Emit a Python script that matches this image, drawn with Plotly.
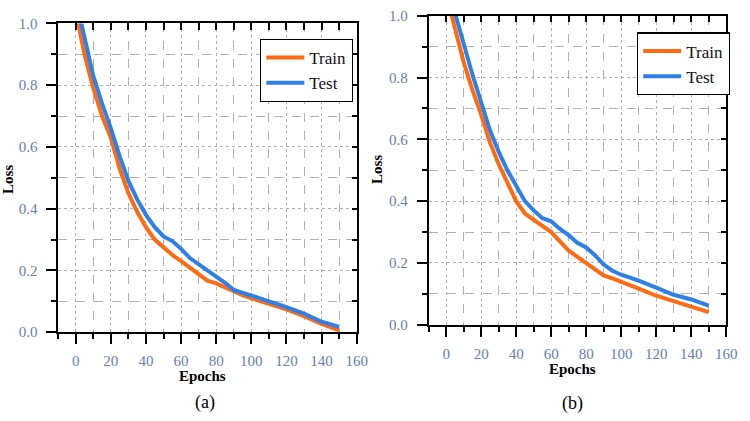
import plotly.graph_objects as go

epochs = [0, 5, 10, 15, 20, 25, 30, 35, 40, 45, 50, 55, 60, 65, 70, 75, 80, 85, 90, 95, 100, 110, 120, 130, 140, 150]

train_a = [1.04, 0.90, 0.79, 0.70, 0.63, 0.53, 0.45, 0.39, 0.34, 0.30, 0.275, 0.25, 0.23, 0.21, 0.19, 0.167, 0.158, 0.145, 0.13, 0.12, 0.11, 0.093, 0.074, 0.052, 0.027, 0.006]
test_a = [1.08, 0.95, 0.83, 0.74, 0.66, 0.57, 0.49, 0.43, 0.38, 0.34, 0.31, 0.295, 0.27, 0.24, 0.22, 0.20, 0.183, 0.16, 0.137, 0.127, 0.117, 0.10, 0.081, 0.06, 0.034, 0.017]

train_b = [1.07, 0.96, 0.85, 0.76, 0.68, 0.59, 0.52, 0.46, 0.40, 0.36, 0.34, 0.32, 0.30, 0.27, 0.24, 0.22, 0.20, 0.18, 0.16, 0.15, 0.14, 0.117, 0.094, 0.076, 0.057, 0.041]
test_b = [1.11, 1.01, 0.90, 0.81, 0.72, 0.63, 0.56, 0.50, 0.45, 0.40, 0.37, 0.345, 0.335, 0.31, 0.29, 0.265, 0.25, 0.225, 0.195, 0.175, 0.162, 0.143, 0.12, 0.097, 0.082, 0.062]

series_names = ["Train", "Test"]
colors = ["#FF6A13", "#2E7FE6"]

FONT = "Liberation Serif"
TICKCOL = "#6680b0"
GRIDCOL = "#b0b0b0"

fig = go.Figure()

panels = [
    ("x", "y", "legend", train_a, test_a),
    ("x2", "y2", "legend2", train_b, test_b),
]
for xa, ya, lg, tr, te in panels:
    for name, vals, col in zip(series_names, [tr, te], colors):
        fig.add_trace(go.Scatter(x=epochs, y=vals, mode="lines", name=name,
                                 line=dict(color=col, width=4),
                                 xaxis=xa, yaxis=ya, legend=lg))

# dummy traces for the inside-tick overlay axes (top/right)
for xa, ya in [("x3", "y3"), ("x4", "y4")]:
    fig.add_trace(go.Scatter(x=[None], y=[None], xaxis=xa, yaxis=ya, showlegend=False, hoverinfo="skip"))

def xmain(domain, anchor):
    return dict(domain=domain, anchor=anchor, range=[-10, 160], tick0=0, dtick=20,
                showline=True, linecolor="black", linewidth=1.5,
                ticks="outside", ticklen=10, tickwidth=1.5, tickcolor="black",
                tickfont=dict(family=FONT, size=15, color=TICKCOL),
                ticklabelstandoff=4,
                showgrid=True, gridcolor=GRIDCOL, griddash="dot", gridwidth=1,
                zeroline=False,
                minor=dict(dtick=10, tick0=0, ticks="outside", ticklen=5, tickwidth=1.5,
                           tickcolor="black", showgrid=True, gridcolor=GRIDCOL,
                           griddash="dash", gridwidth=1))

def ymain(domain, anchor):
    return dict(domain=domain, anchor=anchor, range=[0, 1], tick0=0, dtick=0.2,
                tickformat=".1f",
                showline=True, linecolor="black", linewidth=1.5,
                ticks="outside", ticklen=10, tickwidth=1.5, tickcolor="black",
                tickfont=dict(family=FONT, size=15, color=TICKCOL),
                ticklabelstandoff=6,
                showgrid=True, gridcolor=GRIDCOL, griddash="dot", gridwidth=1,
                zeroline=False,
                minor=dict(dtick=0.1, tick0=0, ticks="outside", ticklen=5, tickwidth=1.5,
                           tickcolor="black", showgrid=True, gridcolor=GRIDCOL,
                           griddash="dash", gridwidth=1))

def xtop(over, anchor):
    return dict(overlaying=over, anchor=anchor, side="top", range=[-10, 160], tick0=0, dtick=10,
                showline=True, linecolor="black", linewidth=1.5,
                ticks="inside", ticklen=7, tickwidth=1.5, tickcolor="black",
                showticklabels=False, showgrid=False, zeroline=False)

def yright(over, anchor):
    return dict(overlaying=over, anchor=anchor, side="right", range=[0, 1], tick0=0, dtick=0.1,
                showline=True, linecolor="black", linewidth=1.5,
                ticks="inside", ticklen=5, tickwidth=1.5, tickcolor="black",
                showticklabels=False, showgrid=False, zeroline=False)

legend_style = dict(bgcolor="white", bordercolor="black", borderwidth=1.2,
                    font=dict(family=FONT, size=17, color="#111111"),
                    itemwidth=38, tracegroupgap=0, xanchor="left", yanchor="top")

fig.update_layout(
    width=750, height=421,
    margin=dict(l=0, r=0, t=0, b=0),
    paper_bgcolor="white", plot_bgcolor="white",
    showlegend=True,
    xaxis=xmain([0.0787, 0.4827], "y"),
    yaxis=ymain([0.1995, 0.962], "x"),
    xaxis2=xmain([0.58, 0.9827], "y2"),
    yaxis2=ymain([0.2178, 0.981], "x2"),
    xaxis3=xtop("x", "y"),
    yaxis3=yright("y", "x"),
    xaxis4=xtop("x2", "y2"),
    yaxis4=yright("y2", "x2"),
    legend=dict(x=0.352, y=0.924, **legend_style),
    legend2=dict(x=0.862, y=0.94, **legend_style),
)

annots = [
    dict(text="<b>Loss</b>", x=8, y=178, angle=-90, size=15),
    dict(text="<b>Loss</b>", x=382, y=168, angle=-90, size=15),
    dict(text="<b>Epochs</b>", x=206, y=383, angle=0, size=15),
    dict(text="<b>Epochs</b>", x=581, y=375, angle=0, size=15),
    dict(text="(a)", x=208, y=410, angle=0, size=18),
    dict(text="(b)", x=581, y=411, angle=0, size=18),
]
for a in annots:
    fig.add_annotation(text=a["text"], x=a["x"] / 750, y=1 - a["y"] / 421,
                       xref="paper", yref="paper", showarrow=False,
                       xanchor="center", yanchor="middle", textangle=a["angle"],
                       font=dict(family=FONT, size=a["size"], color="black"))

fig.write_html("out.html")
